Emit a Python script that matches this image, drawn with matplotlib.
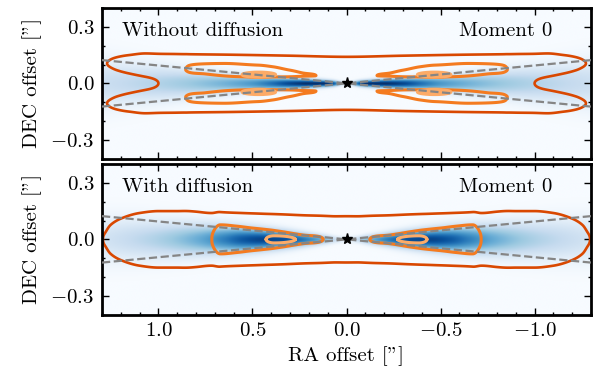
import numpy as np
import matplotlib
matplotlib.use("Agg")
import matplotlib.pyplot as plt
from matplotlib.ticker import MultipleLocator

plt.rcParams.update({
    "font.family": "serif",
    "font.serif": ["cmr10"],
    "mathtext.fontset": "cm",
    "axes.formatter.use_mathtext": True,
    "font.size": 15,
})

# ---------------- data ----------------
ra_limits = [1.3, -1.3]
dec_limits = [-0.4, 0.4]
xtick_values = [1.0, 0.5, 0.0, -0.5, -1.0]
ytick_values = [-0.3, 0.0, 0.3]
panel_titles = ["Without diffusion", "With diffusion"]
panel_tag = "Moment 0"
xlabel_text = 'RA offset ["]'
ylabel_text = 'DEC offset ["]'
contour_colors = ["#d94801", "#f47b20", "#fdab67"]
surface_slope = 0.095          # z/r of the dashed surface lines
star_ra = [0.0]
star_dec = [0.0]

# --- blue moment-0 maps: radial amplitude and vertical width
blue1_r = [0.0, 0.03, 0.07, 0.12, 0.2, 0.3, 0.4, 0.5, 0.7, 0.9, 1.1, 1.3]
blue1_amp = [0.15, 0.35, 0.85, 1.0, 1.0, 0.92, 0.75, 0.6, 0.45, 0.35, 0.28, 0.22]
blue1_wid = [0.008, 0.009, 0.011, 0.013, 0.016, 0.019, 0.023, 0.028, 0.04, 0.055, 0.07, 0.085]
blue2_r = [0.0, 0.05, 0.1, 0.18, 0.27, 0.35, 0.45, 0.55, 0.65, 0.8, 1.0, 1.15, 1.3]
blue2_amp = [0.12, 0.2, 0.4, 0.62, 0.8, 0.9, 0.92, 0.85, 0.7, 0.5, 0.33, 0.25, 0.18]
blue2_wid = [0.012, 0.013, 0.016, 0.021, 0.027, 0.032, 0.038, 0.044, 0.05, 0.058, 0.068, 0.075, 0.08]

# --- panel 1 contour model: envelope with outer notch
env1_r = [0.0, 0.3, 0.6, 0.9, 1.0, 1.07, 1.158, 1.22, 1.273, 1.35, 1.45]
env1_level = [0.70, 0.70, 0.70, 0.70, 0.688, 0.691, 0.634, 0.56, 0.45, 0.15, -0.3]
env1_height = [0.1685, 0.1757, 0.1817, 0.1864, 0.19, 0.192, 0.19, 0.19, 0.19, 0.19, 0.19]
env1_notch = [0.0, 0.0, 0.0, 0.2, 0.688, 0.841, 0.976, 1.12, 1.31, 1.4, 1.4]
env1_notch_width = 0.05
# --- panel 1 contour model: surface lobes
lobe1_r = [0.0, 0.1, 0.162, 0.23, 0.3, 0.39, 0.47, 0.56, 0.655, 0.75, 0.83, 0.855, 0.95, 1.1, 1.4]
lobe1_level = [-0.5, 0.6, 1.0, 1.06, 1.25, 1.45, 1.6, 1.6, 1.5, 1.35, 1.15, 1.0, 0.0, -1.0, -2.0]
lobe1_up = [0.05, 0.05, 0.052, 0.054, 0.056, 0.0656, 0.067, 0.071, 0.076, 0.0744, 0.0775, 0.08, 0.08, 0.08, 0.08]
lobe1_down = [0.014, 0.014, 0.014, 0.014, 0.014, 0.015, 0.0155, 0.0155, 0.017, 0.017, 0.026, 0.03, 0.03, 0.03, 0.03]
lobe1_height = [0.035, 0.038, 0.041, 0.0415, 0.042, 0.044, 0.045, 0.047, 0.052, 0.06, 0.067, 0.072, 0.085, 0.1, 0.12]
blob1 = dict(r=0.467, z=0.046, a_in=0.09, a_out=0.088, b=0.0135)
levels1 = [0.0, 1.0, 2.0]

# --- panel 2 contour model
mod2_r = [0.0, 0.06, 0.124, 0.23, 0.35, 0.407, 0.5, 0.584, 0.672, 0.716, 0.8, 0.9, 1.0, 1.1, 1.2, 1.255, 1.28, 1.295, 1.35, 1.45]
mod2_level = [0.8, 0.85, 1.0, 1.05, 1.12, 1.16, 1.2, 1.22, 1.2, 1.0, 0.85, 0.78, 0.78, 0.678, 0.42, 0.2, 0.055, 0.0, -0.3, -0.8]
mod2_height = [0.1375, 0.133, 0.125, 0.1245, 0.1255, 0.1253, 0.1268, 0.13, 0.136, 0.14, 0.156, 0.17, 0.17, 0.17, 0.17, 0.17, 0.17, 0.17, 0.17, 0.17]
mod2_power = [2.0, 2.0, 2.0, 1.77, 1.94, 2.0, 2.15, 2.45, 2.83, 2.8, 2.8, 2.0, 2.0, 2.0, 2.0, 2.0, 2.0, 2.0, 2.0, 2.0]
blob2 = dict(r=0.385, z=0.0, a_in=0.113, a_out=0.043, b=0.019)
levels2 = [0.0, 1.0, 2.0]
blob_gain = 6.0


# ---------------- helpers ----------------
def pchip(xn, yn, x):
    xn = np.asarray(xn, float)
    yn = np.asarray(yn, float)
    h = np.diff(xn)
    delta = np.diff(yn) / h
    n = len(xn)
    d = np.zeros(n)
    for k in range(1, n - 1):
        if delta[k - 1] * delta[k] > 0:
            w1 = 2 * h[k] + h[k - 1]
            w2 = h[k] + 2 * h[k - 1]
            d[k] = (w1 + w2) / (w1 / delta[k - 1] + w2 / delta[k])
    d[0] = 0.0
    d[-1] = delta[-1]
    x = np.clip(x, xn[0], xn[-1])
    i = np.clip(np.searchsorted(xn, x) - 1, 0, n - 2)
    t = (x - xn[i]) / h[i]
    return ((2 * t**3 - 3 * t**2 + 1) * yn[i] + (t**3 - 2 * t**2 + t) * h[i] * d[i]
            + (-2 * t**3 + 3 * t**2) * yn[i + 1] + (t**3 - t**2) * h[i] * d[i + 1])


def smooth_max(fields, tau=0.03):
    s = np.stack(fields)
    m = s.max(axis=0)
    return m + tau * np.log(np.exp((s - m) / tau).sum(axis=0))


def blob(R, z, p):
    a = np.where(R < p["r"], p["a_in"], p["a_out"])
    return 2.0 + blob_gain * (1 - ((R - p["r"]) / a) ** 2 - ((z - p["z"]) / p["b"]) ** 2)


x = np.linspace(-1.3, 1.3, 1301)
y = np.linspace(-0.4, 0.4, 641)
X, Y = np.meshgrid(x, y)
R = np.abs(X)

# blue maps
blue1 = pchip(blue1_r, blue1_amp, R) * np.exp(-Y**2 / (2 * pchip(blue1_r, blue1_wid, R) ** 2))
blue2 = pchip(blue2_r, blue2_amp, R) * np.exp(-Y**2 / (2 * pchip(blue2_r, blue2_wid, R) ** 2))

# panel 1 contour field
ge = pchip(env1_r, env1_level, R)
he = pchip(env1_r, env1_height, R)
nn = pchip(env1_r, env1_notch, R)
env = ge - (Y / he) ** 2 - nn * np.exp(-Y**2 / (2 * env1_notch_width**2))
gk = pchip(lobe1_r, lobe1_level, R)
hu = pchip(lobe1_r, lobe1_up, R)
hd = pchip(lobe1_r, lobe1_down, R)
ck = pchip(lobe1_r, lobe1_height, R)


def lobe(z):
    d = z - ck
    return gk - (d / np.where(d > 0, hu, hd)) ** 2


field1 = smooth_max([env, lobe(Y), lobe(-Y), blob(R, Y, blob1), blob(R, -Y, blob1)])

# panel 2 contour field
g2 = pchip(mod2_r, mod2_level, R)
h2 = pchip(mod2_r, mod2_height, R)
q2 = pchip(mod2_r, mod2_power, R)
field2 = smooth_max([g2 - (np.abs(Y) / h2) ** q2, blob(R, Y, blob2)])

# ---------------- figure ----------------
fig = plt.figure(figsize=(5.98, 3.86), dpi=100)
W, H = 598.0, 386.0
ax1 = fig.add_axes([102 / W, 1 - 158.6 / H, 489 / W, 150.5 / H])
ax2 = fig.add_axes([102 / W, 1 - 314.6 / H, 489 / W, 150.5 / H])

for ax, img, fld, lev, title in [(ax1, blue1, field1, levels1, panel_titles[0]),
                                   (ax2, blue2, field2, levels2, panel_titles[1])]:
    ax.imshow(img, extent=[x[0], x[-1], y[0], y[-1]], origin="lower", cmap="Blues",
              vmin=0, vmax=1, aspect="auto", interpolation="bilinear", zorder=0)
    ax.contour(X, Y, fld, levels=lev, colors=contour_colors,
               linewidths=[1.9, 2.2, 2.2], zorder=2)
    xs = np.array(ra_limits)
    for sgn in (1, -1):
        ax.plot([xs[0], 0, xs[1]], sgn * surface_slope * np.abs([xs[0], 0, xs[1]]),
                ls="--", color="#858585", lw=1.6, zorder=3)
    ax.plot(star_ra, star_dec, marker="*", color="k", ms=8, ls="none", zorder=5)
    ax.set_xlim(ra_limits)
    ax.set_ylim(dec_limits)
    ax.set_xticks(xtick_values)
    ax.set_yticks(ytick_values)
    ax.xaxis.set_minor_locator(MultipleLocator(0.1))
    ax.yaxis.set_minor_locator(MultipleLocator(0.1))
    ax.tick_params(which="both", direction="in", top=True, right=True, width=1.0)
    ax.tick_params(which="major", length=5, pad=5.5)
    ax.tick_params(which="minor", length=2.5)
    for sp in ax.spines.values():
        sp.set_linewidth(2.0)
    ax.set_ylabel(ylabel_text, labelpad=6)
    ax.text(0.04, 0.815, title, transform=ax.transAxes, ha="left", va="baseline")
    ax.text(0.922, 0.815, panel_tag, transform=ax.transAxes, ha="right", va="baseline")

# the small innermost contours of the upper panel appear filled
ax1.contourf(X, Y, field1, levels=[levels1[2], 1e3], colors=[contour_colors[2]], zorder=2)

ax1.tick_params(labelbottom=False)
ax2.set_xlabel(xlabel_text, labelpad=4)

fig.savefig("out.png", dpi=100)
